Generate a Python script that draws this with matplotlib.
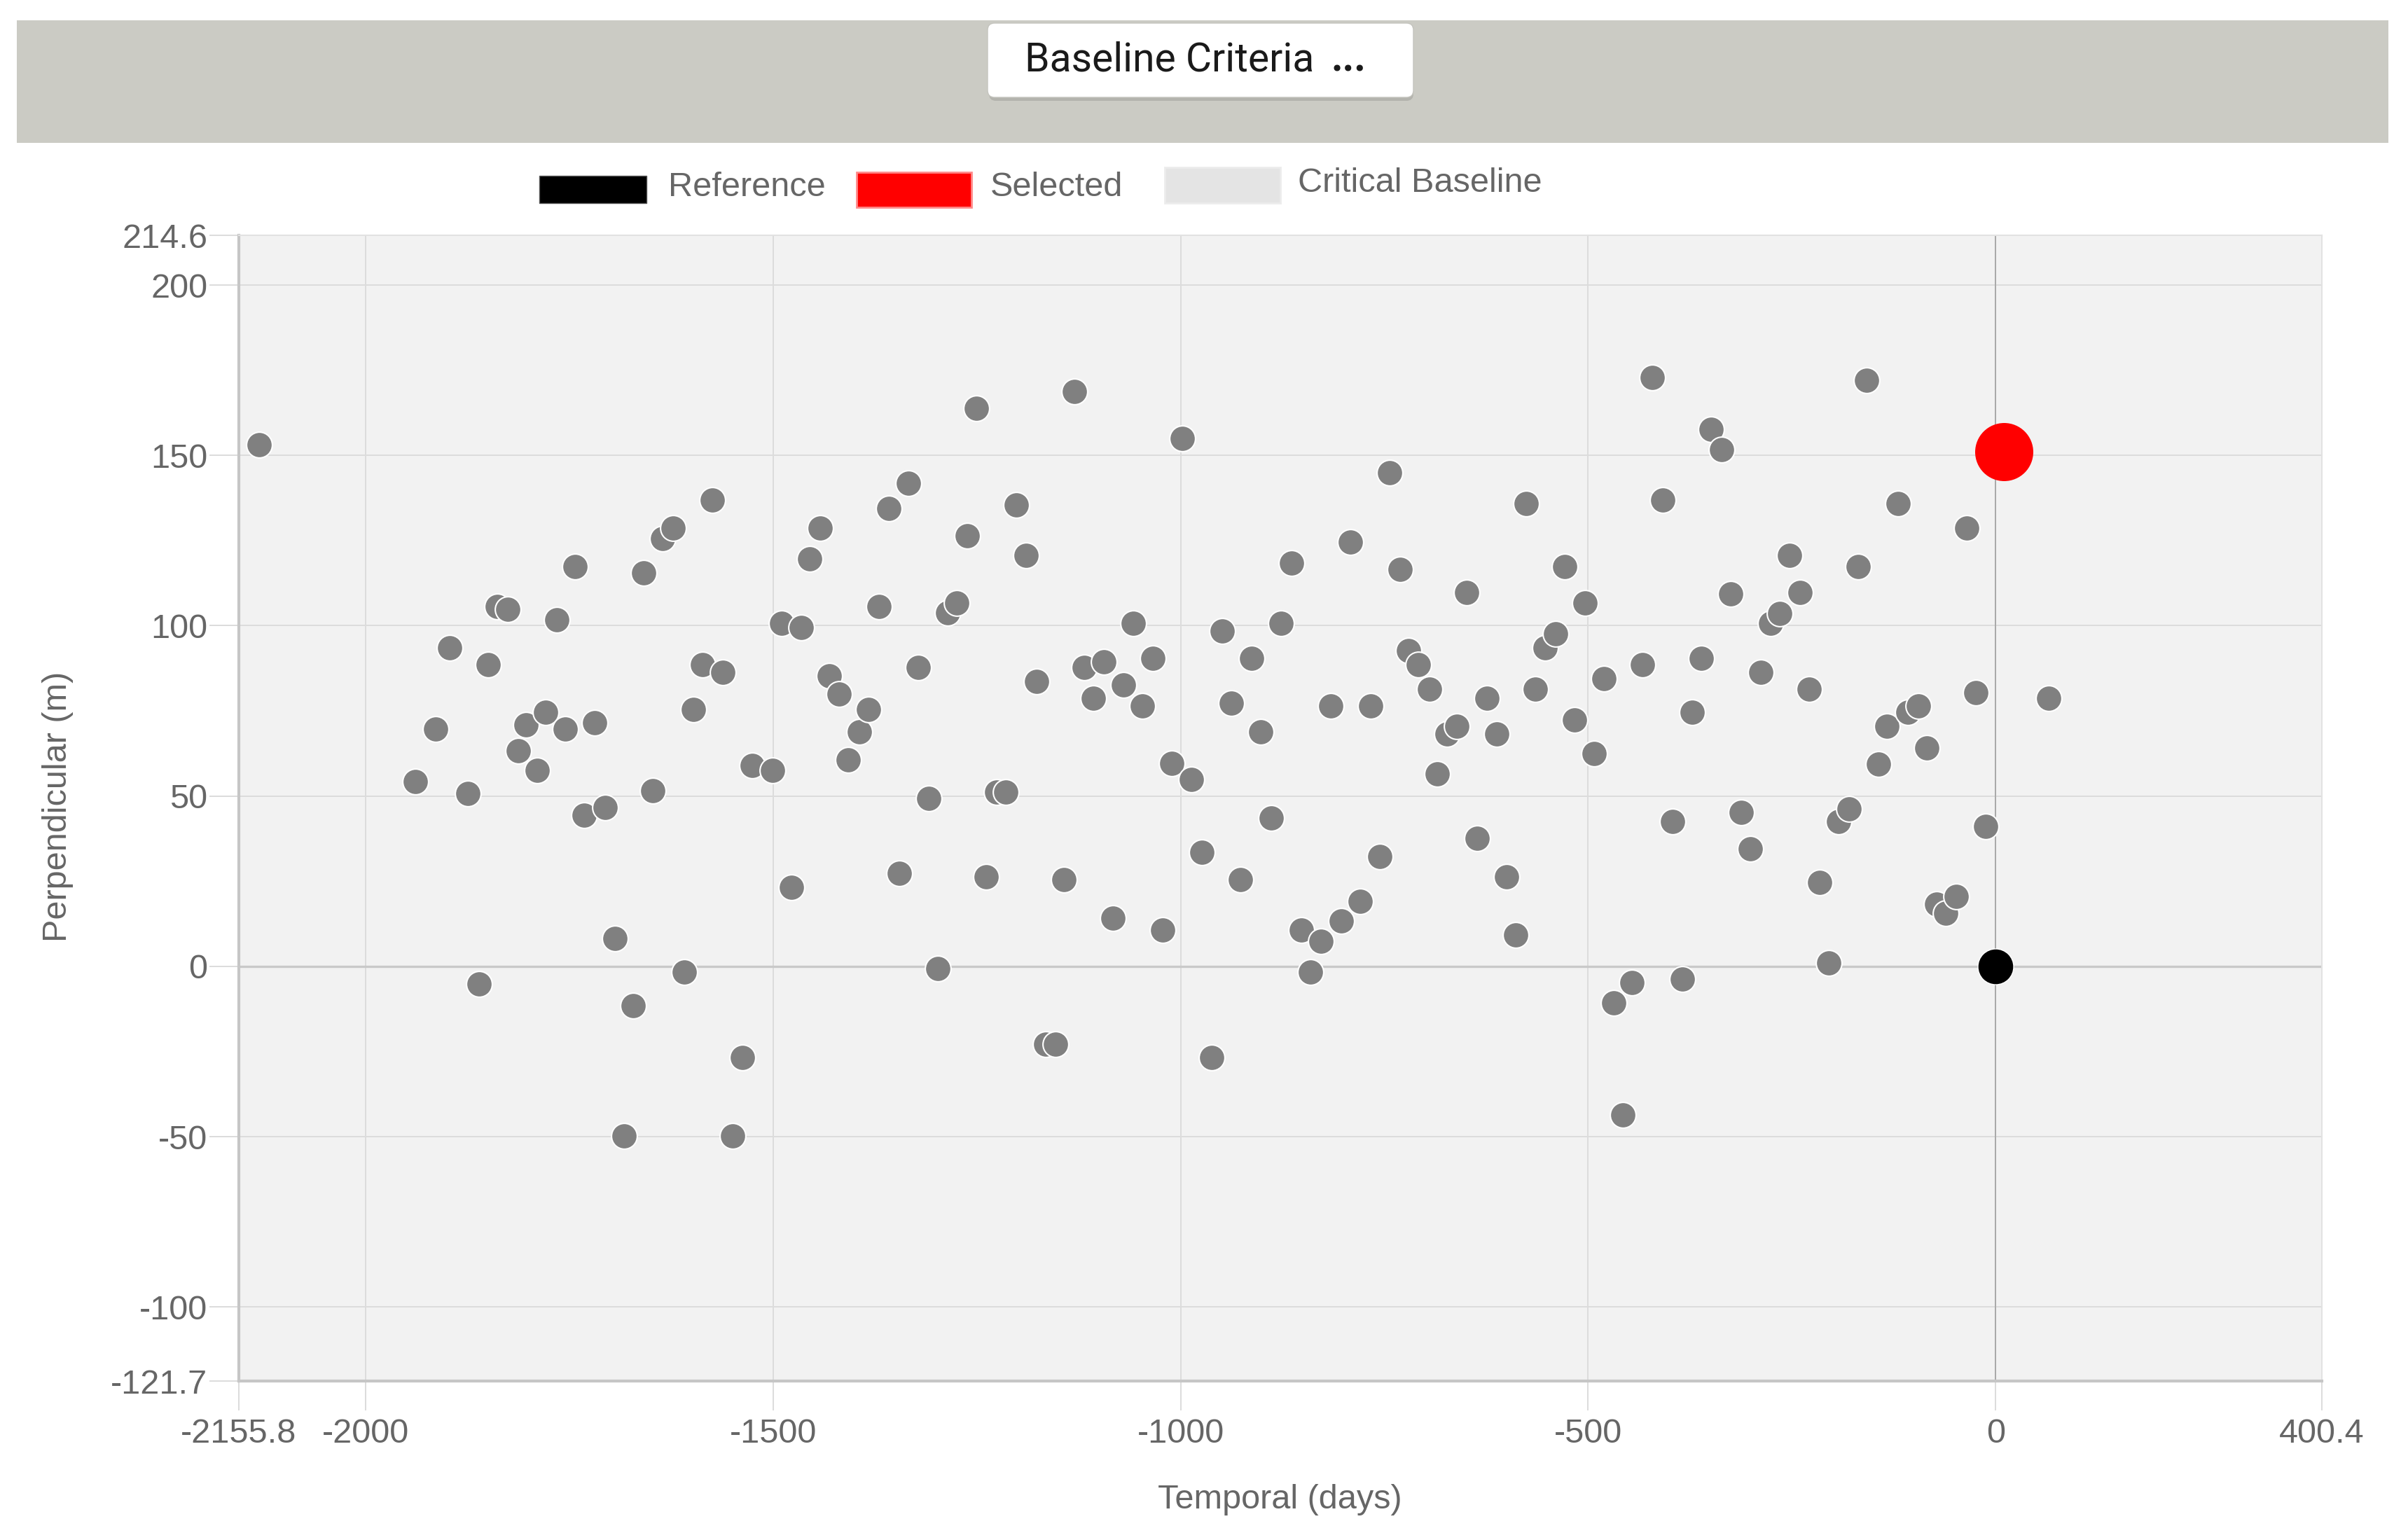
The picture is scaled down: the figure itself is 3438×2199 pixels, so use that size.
import matplotlib
matplotlib.use("Agg")
import matplotlib.pyplot as plt
from matplotlib.patches import Rectangle, FancyBboxPatch

# baseline pairs: temporal (days) vs perpendicular (m)
temporal = [-2131, -1939, -1914, -1897, -1875, -1861, -1850, -1839, -1826, -1813,
            -1803, -1790, -1779, -1766, -1755, -1743, -1732, -1719, -1706, -1694,
            -1683, -1672, -1659, -1648, -1636, -1623, -1609, -1598, -1587, -1575,
            -1562, -1550, -1538, -1526, -1501, -1490, -1478, -1466, -1455, -1442,
            -1431, -1419, -1408, -1394, -1383, -1370, -1358, -1345, -1334, -1322,
            -1309, -1298, -1286, -1275, -1262, -1251, -1239, -1226, -1215, -1202,
            -1190, -1177, -1166, -1154, -1143, -1130, -1118, -1107, -1094, -1083,
            -1070, -1058, -1047, -1034, -1022, -1011, -998, -987, -974, -962,
            -949, -938, -927, -913, -902, -889, -877, -864, -852, -841,
            -828, -816, -803, -792, -780, -767, -756, -744, -731, -720,
            -708, -695, -685, -673, -661, -649, -636, -624, -612, -600,
            -589, -576, -565, -553, -540, -529, -517, -504, -493, -481,
            -469, -457, -446, -433, -421, -408, -396, -384, -372, -361,
            -349, -336, -325, -312, -301, -288, -276, -265, -253, -240,
            -229, -216, -205, -193, -180, -169, -158, -144, -133, -120,
            -108, -95, -84, -72, -61, -48, -35, -24, -12, 65]
perpendicular = [153.2, 54.3, 69.7, 93.6, 50.7, -5.1, 88.6, 105.7, 104.8, 63.3,
                 71.0, 57.5, 74.6, 101.7, 69.7, 117.4, 44.4, 71.5, 46.7, 8.3,
                 -49.8, -11.5, 115.6, 51.6, 125.5, 128.7, -1.6, 75.5, 88.6, 136.8,
                 86.3, -49.8, -26.8, 58.9, 57.5, 100.8, 23.2, 99.4, 119.7, 128.7,
                 85.4, 80.0, 60.6, 68.8, 75.5, 105.7, 134.5, 27.3, 141.8, 87.7,
                 49.4, -0.7, 103.9, 106.7, 126.5, 163.8, 26.4, 51.2, 51.2, 135.5,
                 120.6, 83.6, -22.8, -22.8, 25.5, 168.8, 87.7, 78.7, 89.5, 14.2,
                 82.7, 100.8, 76.5, 90.4, 10.6, 59.7, 154.9, 54.8, 33.6, -26.8,
                 98.5, 77.3, 25.5, 90.4, 68.8, 43.5, 100.8, 118.4, 10.6, -1.6,
                 7.4, 76.5, 13.3, 124.6, 19.2, 76.5, 32.2, 145.0, 116.5, 92.6,
                 88.6, 81.4, 56.6, 68.3, 70.6, 109.8, 37.6, 78.7, 68.3, 26.4,
                 9.2, 135.9, 81.4, 93.6, 97.6, 117.4, 72.3, 106.7, 62.4, 84.5,
                 -10.6, -43.6, -4.7, 88.6, 172.9, 136.8, 42.6, -3.8, 74.6, 90.4,
                 157.6, 151.7, 109.3, 45.3, 34.5, 86.3, 100.8, 103.5, 120.6, 109.8,
                 81.4, 24.6, 1.1, 42.6, 46.2, 117.4, 172.0, 59.3, 70.6, 135.9,
                 74.6, 76.5, 64.2, 18.3, 15.6, 20.5, 128.7, 80.4, 41.2, 78.7]

reference_point = (0, 0)
selected_point = (10, 151)

x_min, x_max = -2155.8, 400.4
y_min, y_max = -121.7, 214.6
x_ticks = [-2155.8, -2000, -1500, -1000, -500, 0, 400.4]
x_tick_labels = ["-2155.8", "-2000", "-1500", "-1000", "-500", "0", "400.4"]
y_ticks = [-121.7, -100, -50, 0, 50, 100, 150, 200, 214.6]
y_tick_labels = ["-121.7", "-100", "-50", "0", "50", "100", "150", "200", "214.6"]

legend_labels = ["Reference", "Selected", "Critical Baseline"]

W, H = 3438, 2199
FONT = "Liberation Sans"
TXT = "#666666"

fig = plt.figure(figsize=(W / 100, H / 100), dpi=100)
fig.patch.set_facecolor("white")

# overlay in pixel coords for the header bar and legend
over = fig.add_axes([0, 0, 1, 1], zorder=0)
over.set_xlim(0, W)
over.set_ylim(H, 0)
over.axis("off")

over.add_patch(Rectangle((24, 29), 3386, 175, facecolor="#cbcbc4", edgecolor="none"))
over.add_patch(FancyBboxPatch((1412, 38), 606, 106, boxstyle="round,pad=0,rounding_size=10",
                              facecolor="#b3b3ad", edgecolor="none"))
over.add_patch(FancyBboxPatch((1410, 33), 608, 106, boxstyle="round,pad=0,rounding_size=10",
                              facecolor="white", edgecolor="#c4c4be", linewidth=1))
over.text(1463, 86, "Baseline Criteria", fontsize=41, family="Roboto", color="#1a1a1a",
          ha="left", va="center")
over.text(1900, 101, "...", fontsize=41, family="Roboto", fontweight="bold", color="#1a1a1a",
          ha="left", va="baseline")

# legend boxes
over.add_patch(Rectangle((770, 251), 153, 39, facecolor="black", edgecolor="#555555", linewidth=1))
over.add_patch(Rectangle((1223, 246), 164, 50, facecolor="#ff0000", edgecolor="#ff8a8a", linewidth=2))
over.add_patch(Rectangle((1663, 239), 165, 51, facecolor="#e4e4e4", edgecolor="#ececec", linewidth=2))
over.text(954, 268, legend_labels[0], fontsize=35, family=FONT, color=TXT, ha="left", va="center")
over.text(1414, 268, legend_labels[1], fontsize=35, family=FONT, color=TXT, ha="left", va="center")
over.text(1853, 262, legend_labels[2], fontsize=35, family=FONT, color=TXT, ha="left", va="center")

# main plot
ax_left, ax_right, ax_top, ax_bottom = 341, 3315, 336, 1972
ax = fig.add_axes([ax_left / W, 1 - ax_bottom / H, (ax_right - ax_left) / W,
                   (ax_bottom - ax_top) / H], zorder=1)
ax.set_facecolor("#f2f2f2")
ax.set_xlim(x_min, x_max)
ax.set_ylim(y_min, y_max)
ax.set_xticks(x_ticks, labels=x_tick_labels)
ax.set_yticks(y_ticks, labels=y_tick_labels)
ax.tick_params(axis="both", length=30, width=1.4, color="#dcdcdc", labelcolor=TXT,
               labelsize=35)
ax.tick_params(axis="x", pad=8)
ax.tick_params(axis="y", pad=2)
for lab in ax.get_xticklabels() + ax.get_yticklabels():
    lab.set_family(FONT)

ax.set_axisbelow(True)
ax.grid(True, color="#dcdcdc", linewidth=1.4)
ax.axvline(0, color="#a9a9a9", linewidth=1.4, zorder=1)
ax.axhline(0, color="#c9c9c9", linewidth=2.4, zorder=1)

for side in ["left", "bottom"]:
    ax.spines[side].set_color("#c6c6c6")
    ax.spines[side].set_linewidth(3)
for side in ["top", "right"]:
    ax.spines[side].set_color("#e2e2e2")
    ax.spines[side].set_linewidth(1.5)

ax.scatter(temporal, perpendicular, s=700, color="#808080", edgecolors="white",
           linewidths=1.5, zorder=3)
ax.scatter([reference_point[0]], [reference_point[1]], s=1350, color="black",
           edgecolors="white", linewidths=1.0, zorder=4)
ax.scatter([selected_point[0]], [selected_point[1]], s=3570, color="#ff0000",
           linewidths=0, zorder=4)

fig.text(1827 / W, 1 - 2142 / H, "Temporal (days)", fontsize=35, family=FONT, color=TXT,
         ha="center", va="center")
fig.text(83 / W, 1 - 1152 / H, "Perpendicular (m)", fontsize=35, family=FONT, color=TXT,
         rotation=90, ha="center", va="center")

fig.savefig("out.png", dpi=100, facecolor="white")
